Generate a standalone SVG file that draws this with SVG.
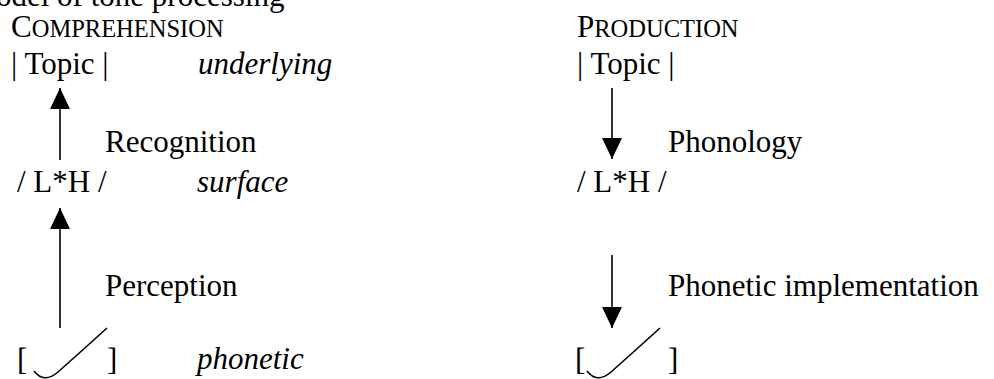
<svg xmlns="http://www.w3.org/2000/svg" width="994" height="379" viewBox="0 0 994 379">
<style>
text{font-family:'Liberation Serif','DejaVu Serif',serif;font-size:31px;fill:#000}
.it{font-style:italic}
.sc{font-size:24.5px}
.ln{stroke:#000;stroke-width:1.6;fill:none}
</style>
<defs>
<marker id="ah" markerUnits="userSpaceOnUse" markerWidth="22" markerHeight="22" viewBox="0 0 22 22" refX="21" refY="10" orient="auto">
<path d="M0,0 L21,10 L0,20 Z" fill="#000"/>
</marker>
</defs>
<rect width="994" height="379" fill="#fff"/>
<g font-family="Liberation Serif, serif">
<text id="title" x="-4" y="6">odel of tone processing</text>
<g id="comp-head"><text x="11" y="37">C<tspan class="sc">OMPREHENSION</tspan></text></g>
<g id="comp-topic"><text x="11" y="74">| Topic |</text></g>
<g id="lbl-underlying"><text class="it" x="198" y="74">underlying</text></g>
<g id="comp-lh"><text x="17" y="192">/ L*H /</text></g>
<g id="lbl-surface"><text class="it" x="197" y="192">surface</text></g>
<g id="comp-phon"><text x="17" y="370">[</text><text x="107" y="370">]</text><path class="ln" d="M34,371 Q44,384 58,372 Q85,348 107,328"/></g>
<g id="lbl-phonetic"><text class="it" x="197" y="369">phonetic</text></g>
<g id="prod-head"><text x="577" y="37">P<tspan class="sc">RODUCTION</tspan></text></g>
<g id="prod-topic"><text x="577" y="74">| Topic |</text></g>
<g id="prod-lh"><text x="577" y="192">/ L*H /</text></g>
<g id="prod-phon"><text x="575" y="370">[</text><text x="668" y="370">]</text><path class="ln" d="M587,371 Q597,384 611,372 Q638,348 660,328"/></g>
<g id="connectors">
<line class="ln" x1="60" y1="160" x2="60" y2="88" marker-end="url(#ah)"/>
<text x="105" y="152">Recognition</text>
<line class="ln" x1="60" y1="328" x2="60" y2="208" marker-end="url(#ah)"/>
<text x="105" y="296">Perception</text>
<line class="ln" x1="612" y1="88" x2="612" y2="159" marker-end="url(#ah)"/>
<text x="668" y="152">Phonology</text>
<line class="ln" x1="612" y1="255" x2="612" y2="328" marker-end="url(#ah)"/>
<text x="668" y="296">Phonetic implementation</text>
</g>
</g>
</svg>
